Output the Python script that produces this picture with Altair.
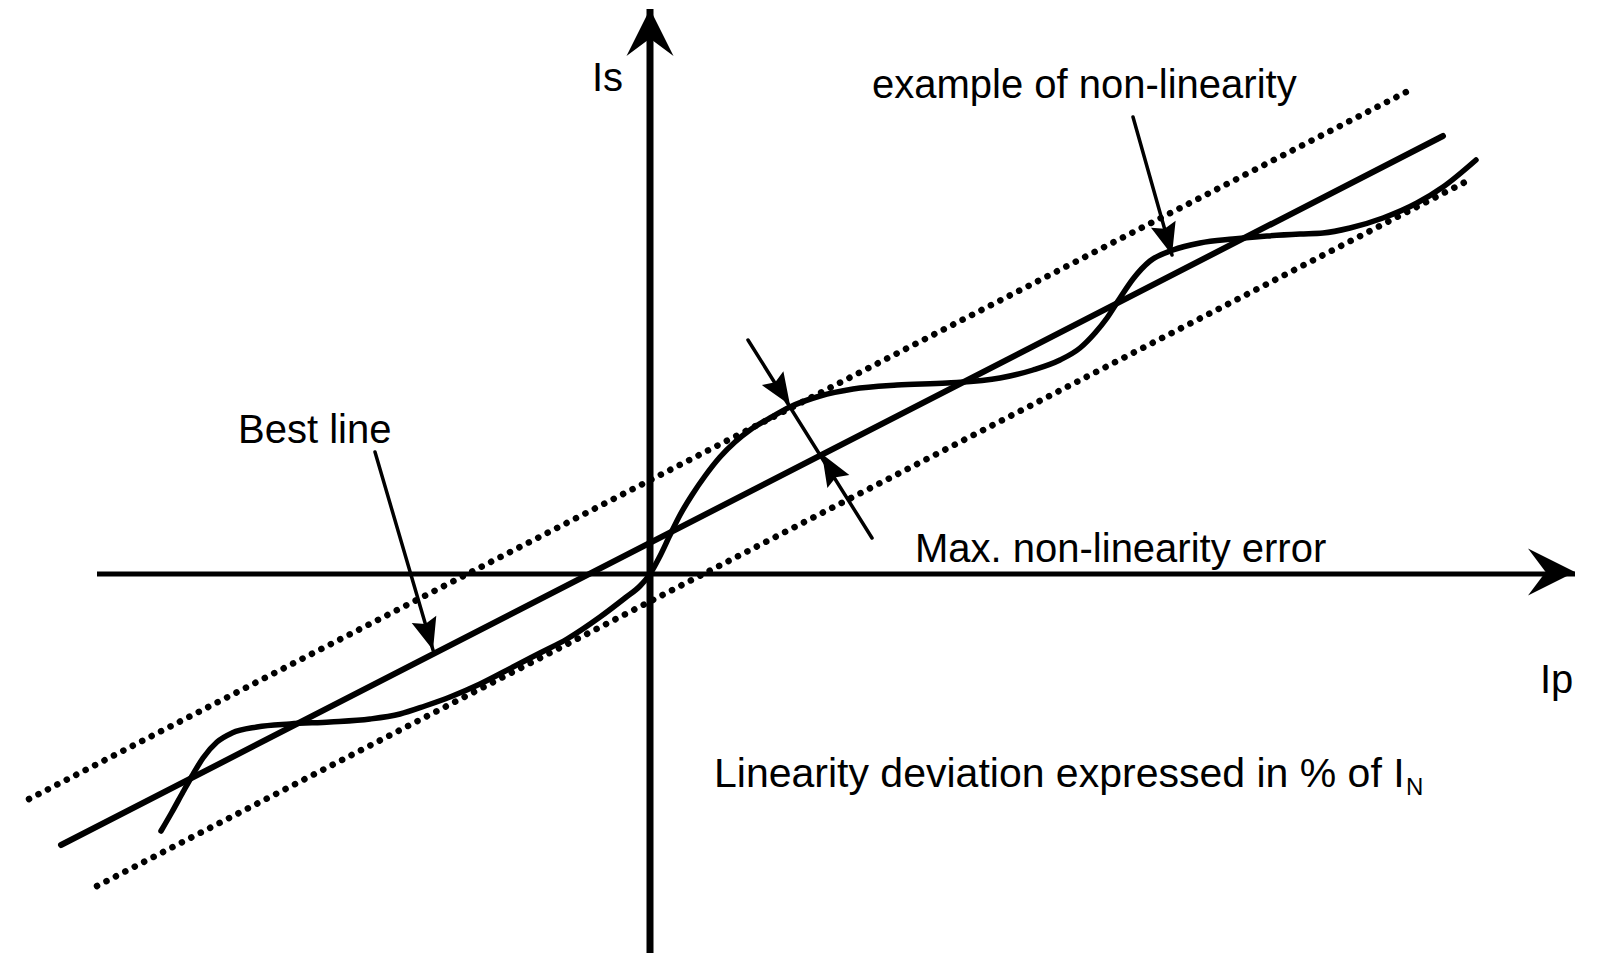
import math
import altair as alt
import pandas as pd

# ---------------- data (arbitrary units, origin at axis crossing) ----------------
# measured characteristic (non-linear curve)
curve_x = [-4.89, -4.78, -4.67, -4.58, -4.47, -4.33, -4.18, -3.93, -3.60, -3.20,
           -2.80, -2.50, -2.25, -2.00, -1.70, -1.37, -1.10, -0.83, -0.50, -0.25,
           -0.10, 0.00, 0.10, 0.20, 0.30, 0.42, 0.55, 0.70, 0.85, 1.00,
           1.20, 1.40, 1.70, 2.03, 2.47, 2.97, 3.50, 3.83, 4.10, 4.30,
           4.45, 4.57, 4.70, 4.83, 5.00, 5.23, 5.50, 5.83, 6.17, 6.50,
           6.73, 7.00, 7.33, 7.67, 7.93, 8.26]
curve_y = [-2.57, -2.38, -2.18, -2.02, -1.84, -1.68, -1.59, -1.53, -1.50, -1.48,
           -1.45, -1.40, -1.32, -1.23, -1.10, -0.93, -0.79, -0.65, -0.43, -0.24,
           -0.12, 0.00, 0.18, 0.39, 0.59, 0.79, 0.98, 1.17, 1.32, 1.44,
           1.56, 1.67, 1.78, 1.85, 1.89, 1.91, 1.96, 2.04, 2.14, 2.26,
           2.41, 2.56, 2.76, 2.95, 3.13, 3.24, 3.31, 3.35, 3.38, 3.40,
           3.41, 3.46, 3.56, 3.71, 3.87, 4.14]

# best straight line and the two tolerance (dotted) lines
best_x = [-5.89, 7.93]
best_y = [-2.71, 4.38]
upper_x = [-6.21, 7.60]
upper_y = [-2.25, 4.84]
lower_x = [-5.53, 8.21]
lower_y = [-3.12, 3.95]

# coordinate axes
haxis_x = [-5.53, 9.25]
haxis_y = [0.0, 0.0]
vaxis_x = [0.0, 0.0]
vaxis_y = [-3.79, 5.65]

# pointer arrows: start and tip
ptr_names = ["best", "example", "maxerr"]
ptr_x0 = [-2.75, 4.83, 0.98]
ptr_y0 = [1.22, 4.57, 2.34]
ptr_x1 = [-2.17, 5.22, 2.22]
ptr_y1 = [-0.76, 3.19, 0.36]

# arrow heads: tip position and the point they come from
head_kind = ["axis", "axis", "ptr", "ptr", "ptr", "ptr"]
head_tip_x = [0.0, 9.25, -2.17, 5.22, 1.40, 1.72]
head_tip_y = [5.65, 0.02, -0.76, 3.19, 1.69, 1.20]
head_from_x = [0.0, -5.53, -2.75, 4.83, 0.98, 2.22]
head_from_y = [-3.79, 0.02, 1.22, 4.57, 2.34, 0.36]

# text labels
label_text = ["Is", "Ip", "Best line", "example of non-linearity",
              "Max. non-linearity error"]
label_x = [-0.58, 8.90, -4.12, 2.22, 2.65]
label_y = [4.83, -1.19, 1.31, 4.76, 0.12]
note_text = ["Linearity deviation expressed in % of I"]
note_x = [0.64]
note_y = [-2.13]
sub_text = ["N"]
sub_x = [7.56]
sub_y = [-2.21]

# ---------------- layout ----------------
W, H = 1580, 945
X0, Y0 = 650 - 8, 574 - 8          # origin position inside the plot area (px)
PX = 100.0                          # px per unit
xdom = [-X0 / PX, (W - X0) / PX]
ydom = [-(H - Y0) / PX, Y0 / PX]
FONT = "Liberation Sans"

X = lambda f="x": alt.X(f"{f}:Q", scale=alt.Scale(domain=xdom, nice=False, zero=False), axis=None)
Y = lambda f="y": alt.Y(f"{f}:Q", scale=alt.Scale(domain=ydom, nice=False, zero=False), axis=None)


def seg_df(xs, ys):
    return pd.DataFrame({"x": xs, "y": ys, "i": list(range(len(xs)))})


def line_layer(df, width, dash=None, interp="linear", cap="round"):
    kw = dict(color="black", strokeWidth=width, strokeCap=cap, interpolate=interp, clip=False)
    if dash:
        kw["strokeDash"] = dash
    return alt.Chart(df).mark_line(**kw).encode(x=X(), y=Y(), order=alt.Order("i:Q"))


layers = []
layers.append(line_layer(seg_df(upper_x, upper_y), 6.5, dash=[0.1, 10.5]))
layers.append(line_layer(seg_df(lower_x, lower_y), 6.5, dash=[0.1, 10.5]))
layers.append(line_layer(seg_df(haxis_x, haxis_y), 5, cap="butt"))
layers.append(line_layer(seg_df(vaxis_x, vaxis_y), 7, cap="butt"))
layers.append(line_layer(seg_df(best_x, best_y), 6))
layers.append(line_layer(seg_df(curve_x, curve_y), 5.5, interp="monotone"))

ptr_rows = []
for n, a, b, c, d in zip(ptr_names, ptr_x0, ptr_y0, ptr_x1, ptr_y1):
    ptr_rows += [{"id": n, "x": a, "y": b, "i": 0}, {"id": n, "x": c, "y": d, "i": 1}]
ptr_df = pd.DataFrame(ptr_rows)
layers.append(
    alt.Chart(ptr_df).mark_line(color="black", strokeWidth=3.5, strokeCap="round").encode(
        x=X(), y=Y(), detail="id:N", order=alt.Order("i:Q"))
)

head_rows = []
for k, tx, ty, fx, fy in zip(head_kind, head_tip_x, head_tip_y, head_from_x, head_from_y):
    ang = math.degrees(math.atan2(tx - fx, ty - fy)) % 360
    head_rows.append({"kind": k, "x": tx, "y": ty, "angle": ang})
head_df = pd.DataFrame(head_rows)

layers.append(
    alt.Chart(head_df[head_df.kind == "axis"]).mark_point(
        shape="M0,0L1.0,2L0,1.25L-1.0,2Z", filled=True, color="black", opacity=1, size=47 * 47
    ).encode(x=X(), y=Y(), angle=alt.Angle("angle:Q", scale=None))
)
layers.append(
    alt.Chart(head_df[head_df.kind == "ptr"]).mark_point(
        shape="M0,0L0.8,2L0,1.7L-0.8,2Z", filled=True, color="black", opacity=1, size=32 * 32
    ).encode(x=X(), y=Y(), angle=alt.Angle("angle:Q", scale=None))
)

lab_df = pd.DataFrame({"t": label_text, "x": label_x, "y": label_y})
layers.append(
    alt.Chart(lab_df).mark_text(align="left", baseline="alphabetic", font=FONT, fontSize=40,
                                color="black").encode(x=X(), y=Y(), text="t:N")
)
note_df = pd.DataFrame({"t": note_text, "x": note_x, "y": note_y})
layers.append(
    alt.Chart(note_df).mark_text(align="left", baseline="alphabetic", font=FONT, fontSize=41,
                                 color="black").encode(x=X(), y=Y(), text="t:N")
)
sub_df = pd.DataFrame({"t": sub_text, "x": sub_x, "y": sub_y})
layers.append(
    alt.Chart(sub_df).mark_text(align="left", baseline="alphabetic", font=FONT, fontSize=24,
                                color="black").encode(x=X(), y=Y(), text="t:N")
)

chart = alt.layer(*layers).properties(
    width=W, height=H, padding=0, autosize=alt.AutoSizeParams(type="none"), background="white"
).configure_view(stroke=None)

chart.save("out.html", embed_options={"renderer": "svg", "actions": False})
